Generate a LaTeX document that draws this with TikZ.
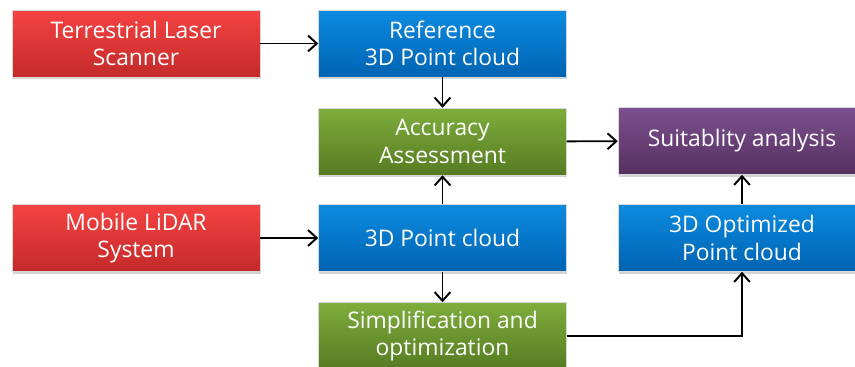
\documentclass[tikz,border=0pt]{standalone}
\usepackage{fontspec}
\setmainfont{Open Sans}
\usetikzlibrary{arrows.meta,shadows}

\definecolor{redtop}{HTML}{F54242}
\definecolor{redbot}{HTML}{C42A2A}
\definecolor{bluetop}{HTML}{0C8BE0}
\definecolor{bluebot}{HTML}{0063B2}
\definecolor{greentop}{HTML}{7EAD3C}
\definecolor{greenbot}{HTML}{567B22}
\definecolor{purptop}{HTML}{7C5090}
\definecolor{purpbot}{HTML}{56305F}

\tikzset{
  box/.style={rectangle, minimum width=4.96cm, minimum height=1.34cm,
    text=white, align=center, font=\fontsize{13}{15.5}\selectfont,
    draw=black!15, line width=0.3pt,
    drop shadow={shadow xshift=0.5pt, shadow yshift=-1.2pt, opacity=0.35}},
  redbox/.style={box, top color=redtop, bottom color=redbot},
  bluebox/.style={box, top color=bluetop, bottom color=bluebot},
  greenbox/.style={box, top color=greentop, bottom color=greenbot},
  purpbox/.style={box, top color=purptop, bottom color=purpbot},
  flow/.style={-{Straight Barb[length=5pt,width=9pt]}, line width=1.1pt}
}

\begin{document}
\begin{tikzpicture}[x=0.02cm, y=-0.02cm]
    \useasboundingbox (0,0) rectangle (855,366);

    % Sources
    \node[redbox] (tls) at (136,43.5) {Terrestrial Laser\\Scanner};
    \node[redbox] (mls) at (136,238) {Mobile LiDAR\\System};

    % Point clouds
    \node[bluebox] (refpc) at (442.5,43.5) {Reference\\3D Point cloud};
    \node[bluebox] (pc) at (442.5,238) {3D Point cloud};
    \node[bluebox] (optpc) at (742,238) {3D Optimized\\Point cloud};

    % Processing
    \node[greenbox] (acc) at (442.5,141.5) {Accuracy\\Assessment};
    \node[greenbox] (simp) at (442.5,336) {Simplification and\\optimization};

    % Result
    \node[purpbox] (suit) at (742,141) {Suitablity analysis};

    % Connectors
    \draw[flow] (tls) -- (refpc);
    \draw[flow] (mls) -- (pc);
    \draw[flow] (refpc) -- (acc);
    \draw[flow] (pc) -- (acc);
    \draw[flow] (pc) -- (simp);
    \draw[flow] (acc) -- (suit);
    \draw[flow] (optpc) -- (suit);
    \draw[flow] (simp.east) -| (optpc.south);
\end{tikzpicture}
\end{document}
